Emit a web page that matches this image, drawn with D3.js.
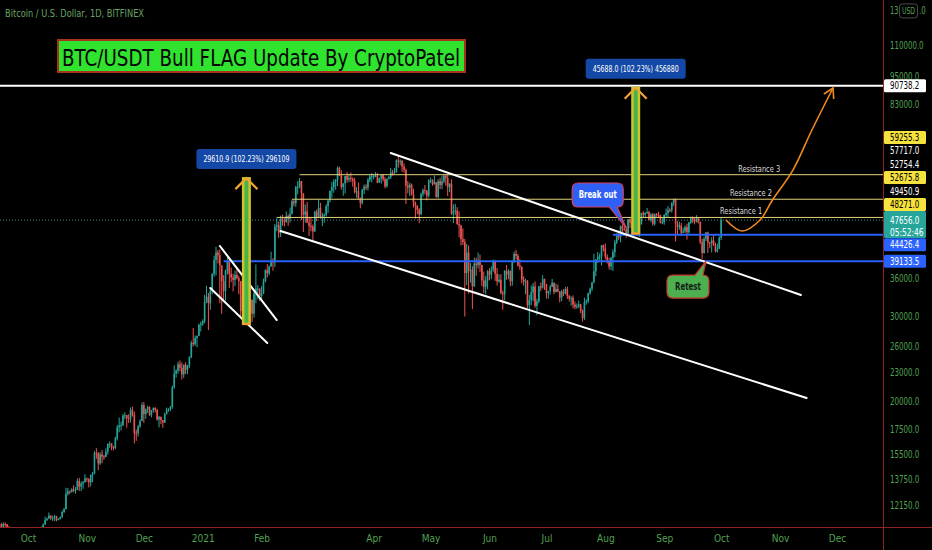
<!DOCTYPE html>
<html>
<head>
<meta charset="utf-8">
<script src="https://cdn.jsdelivr.net/npm/d3@7/dist/d3.min.js"></script>
<style>
html,body{margin:0;padding:0;background:#000;overflow:hidden}
svg{display:block}
</style>
</head>
<body>
<svg id="chart" width="932" height="550"></svg>
<script>
// ---------------- DATA ----------------
const candleStart = "2020-09-16";
const firstOpen = 10.79; // thousands USD
// daily closes (thousands USD), one line per month
const closes = [
 11.08,10.94,11.09,11.08,10.92,10.42,10.53,10.24,10.74,10.69,10.73,10.77,10.84,10.78,10.78,
 10.62,10.57,10.55,10.67,10.79,10.60,10.67,10.92,11.06,11.30,11.38,11.55,11.43,11.43,11.50,11.32,11.36,11.48,11.75,11.92,12.82,12.97,12.93,13.11,13.03,13.07,13.64,13.27,13.46,13.56,13.80,
 13.76,13.55,14.03,14.13,15.58,15.57,14.83,15.48,15.33,15.30,15.70,16.28,16.32,16.07,15.96,16.73,17.65,17.78,17.82,18.65,18.70,18.42,18.37,19.16,18.72,17.15,17.14,17.72,18.18,19.63,
 18.80,19.20,19.45,18.70,19.15,19.36,19.17,18.32,18.55,18.26,18.04,18.80,19.17,19.27,19.44,21.38,22.84,23.14,23.87,23.48,22.75,23.82,23.24,23.73,24.71,26.44,26.28,27.08,27.36,28.84,29.00,
 29.37,32.19,33.00,31.99,33.99,36.82,39.37,40.80,40.25,38.35,35.57,33.92,37.32,39.19,36.83,36.18,35.79,36.63,36.07,35.55,30.83,33.00,32.10,32.29,32.27,32.53,30.43,33.47,34.32,34.32,33.11,
 33.53,35.51,37.47,36.93,38.14,39.27,38.90,46.20,46.48,44.84,47.99,47.40,47.19,48.58,47.94,49.15,52.15,51.68,55.89,55.92,57.49,54.21,48.88,49.70,47.07,46.34,46.19,45.14,
 49.63,48.38,50.54,48.37,48.76,48.88,50.97,52.38,54.88,55.86,57.33,57.83,61.24,59.00,55.86,56.82,58.87,57.85,58.35,58.06,57.52,54.52,54.74,52.77,51.71,55.14,55.97,55.66,57.81,58.78,58.92,
 58.92,59.03,57.02,58.24,59.13,57.99,56.03,58.12,58.56,59.84,59.77,59.99,63.50,63.11,63.31,61.57,60.68,56.22,55.72,56.47,53.90,51.76,51.09,50.05,49.00,54.02,55.03,54.82,53.55,57.75,
 57.83,56.63,57.21,53.24,57.47,56.43,57.38,58.93,58.28,55.86,56.75,49.15,49.72,49.88,46.76,46.43,43.54,42.91,36.96,40.78,37.30,37.53,34.70,38.70,38.40,39.29,38.44,35.69,34.62,35.68,37.33,
 36.69,37.57,39.19,36.83,35.52,35.80,33.55,33.40,37.35,36.68,37.33,35.55,39.10,40.52,40.14,38.35,38.09,35.82,35.48,35.60,31.68,32.50,33.69,34.66,31.59,32.28,34.70,34.49,35.91,35.04,
 33.57,33.90,34.61,35.30,33.75,34.24,33.86,32.88,33.81,33.51,34.26,33.09,32.73,32.82,31.78,31.42,31.53,31.80,30.84,29.79,32.14,32.31,33.58,34.29,35.38,37.27,39.46,40.00,40.01,42.24,41.63,
 39.97,39.20,38.15,39.75,40.87,42.82,44.63,43.82,46.29,45.60,45.59,44.43,47.83,47.10,47.05,45.99,44.70,44.80,46.72,49.34,48.90,49.32,49.53,47.71,48.99,46.85,49.07,48.90,48.83,47.05,47.17,
 48.85,49.28,50.03,49.94,51.77,52.66,46.86,46.09,46.40,44.85,45.16,46.06,44.96,47.09,48.18,47.78,47.31,48.29,47.26,42.84,40.69,43.57,44.90,42.81,42.72,43.21,42.24,41.03,41.52,43.79,
 47.656
];
const highs = [
 11.10,11.15,11.18,11.18,11.08,10.99,10.56,10.57,10.78,10.76,10.82,10.80,10.88,10.86,10.82,
 10.91,10.67,10.60,10.70,10.80,10.80,10.68,10.96,11.12,11.49,11.44,11.72,11.56,11.54,11.59,11.54,11.40,11.49,11.83,11.99,13.20,13.18,13.03,13.16,13.35,13.24,13.80,13.84,13.60,13.63,14.09,
 13.86,13.82,14.07,14.24,15.74,15.96,15.67,15.66,15.82,15.46,15.94,16.33,16.49,16.33,16.14,16.86,17.84,18.48,18.12,18.80,18.95,18.71,18.78,19.40,19.48,19.02,17.43,17.86,18.34,19.86,
 19.92,19.31,19.57,19.50,19.18,19.41,19.43,19.29,18.63,18.56,18.27,18.92,19.39,19.33,19.55,21.54,23.75,23.29,24.17,24.30,24.10,23.84,24.09,23.80,24.79,26.72,28.40,27.39,27.38,28.99,29.30,
 29.60,33.30,34.78,33.60,34.44,36.94,40.18,41.95,41.35,41.39,38.35,36.60,37.60,39.97,39.75,37.95,36.85,37.40,37.85,36.42,35.60,33.83,33.65,32.97,34.80,32.94,32.56,33.78,38.53,34.90,34.28,
 34.72,35.98,37.66,38.60,38.31,40.96,39.70,46.80,48.11,47.32,48.68,48.93,48.10,49.66,49.00,50.62,52.58,52.53,56.16,57.43,58.33,57.50,54.15,51.36,52.00,48.40,48.31,46.65,
 49.78,50.16,52.63,51.74,49.37,49.19,51.39,52.38,54.90,57.20,57.99,58.02,61.70,61.56,60.56,56.89,58.92,60.00,59.46,59.87,58.53,58.37,55.86,57.10,53.12,55.40,56.54,56.60,58.36,59.32,59.75,
 59.46,60.00,59.71,58.45,59.27,59.46,58.65,58.15,58.88,61.23,60.67,61.20,63.80,64.90,63.80,63.59,62.55,61.00,57.50,57.00,56.80,55.40,52.10,51.20,50.50,54.40,55.45,56.40,55.10,57.95,
 58.45,57.94,59.00,57.20,58.00,58.40,59.00,59.50,59.30,59.50,56.90,57.95,51.40,51.50,50.70,49.75,46.60,45.80,43.55,42.50,42.20,38.80,38.20,39.80,39.80,40.80,40.40,38.20,37.25,36.40,37.50,
 37.88,38.20,39.45,39.27,37.90,36.77,36.77,34.00,37.50,38.40,37.65,37.45,39.30,41.00,41.30,40.50,39.50,38.20,36.40,36.00,35.75,33.30,34.85,35.25,35.50,32.70,34.75,35.30,36.60,36.00,
 35.10,33.95,34.95,35.95,35.30,35.10,35.00,33.90,34.10,34.25,34.60,34.65,33.30,33.10,33.20,32.25,31.95,32.40,31.90,31.05,32.85,32.60,33.65,34.50,35.40,40.55,39.50,40.90,40.60,42.30,42.40,
 42.60,40.45,39.80,39.95,41.40,43.35,44.70,45.30,46.45,46.70,46.75,46.20,47.90,48.15,47.40,48.00,47.15,46.00,47.00,49.35,49.80,49.50,50.50,49.85,49.25,49.35,49.20,49.30,49.60,48.90,48.20,
 49.00,50.40,51.00,50.50,51.90,52.80,52.90,47.40,47.30,47.05,45.95,46.45,46.85,47.25,48.45,48.50,48.20,48.80,48.35,47.30,43.60,44.00,45.00,45.10,42.95,43.90,44.30,42.75,42.55,44.10,
 48.30
];
const lows = [
 10.67,10.80,10.82,10.95,10.83,10.33,10.38,10.20,10.22,10.59,10.68,10.63,10.65,10.72,10.66,
 10.44,10.37,10.51,10.50,10.63,10.55,10.59,10.66,10.83,11.11,11.26,11.35,11.30,11.26,11.25,11.24,11.29,11.34,11.42,11.69,11.89,12.71,12.80,12.90,12.92,12.82,13.05,13.00,12.99,13.13,13.53,
 13.57,13.22,13.28,13.55,14.09,15.17,14.36,14.73,14.85,15.09,15.28,15.48,15.96,15.80,15.79,15.88,16.56,17.22,17.37,17.75,18.34,17.61,18.01,18.05,18.58,16.33,16.53,16.88,17.60,18.17,
 18.02,18.38,18.88,18.62,18.51,18.92,18.95,18.20,17.63,17.91,17.60,18.02,18.76,19.00,19.07,19.28,21.24,22.38,22.81,23.08,22.17,22.36,22.76,22.76,23.45,24.57,25.99,26.08,25.89,27.30,27.93,
 28.68,29.03,32.00,28.13,31.00,33.39,36.33,36.52,38.72,32.00,30.40,32.51,32.41,36.70,34.40,35.38,33.85,34.72,35.87,33.40,30.07,28.85,31.39,31.02,31.92,30.87,29.24,29.85,31.99,32.60,32.32,
 32.30,33.42,35.36,36.19,36.57,38.22,37.40,38.06,45.20,43.77,43.95,46.40,46.23,47.08,46.37,47.08,48.97,50.90,50.79,53.96,55.51,47.69,45.03,47.10,47.00,44.17,45.16,43.14,
 45.05,47.42,48.25,47.97,46.30,47.06,48.49,49.33,51.89,53.06,54.35,55.14,56.10,58.90,55.16,53.57,54.18,57.00,57.18,57.22,55.96,54.13,53.10,52.86,50.43,51.34,54.00,55.03,54.91,57.20,57.11,
 57.96,58.50,56.90,56.98,56.77,57.40,55.50,55.70,57.90,58.03,59.00,59.37,59.90,61.30,62.00,60.10,59.80,51.50,54.20,53.50,53.65,50.65,48.00,49.00,46.97,48.80,53.30,53.90,52.40,53.10,
 56.90,56.20,56.50,53.05,52.90,55.30,55.30,56.90,56.20,53.50,54.50,48.90,46.98,48.80,46.60,43.90,42.20,42.30,30.00,34.90,33.50,35.30,31.10,34.60,36.50,37.80,37.20,34.70,33.60,33.40,34.20,
 35.70,35.90,37.20,35.60,34.80,35.25,33.40,31.00,32.45,35.80,35.90,34.70,34.80,38.80,39.50,38.15,37.50,35.20,34.80,33.40,31.25,28.80,31.70,32.30,31.30,30.20,32.00,33.90,34.30,34.10,
 32.70,32.70,33.35,34.55,33.40,33.70,33.70,32.10,32.30,33.10,33.35,32.65,32.25,31.60,31.20,31.10,31.15,31.25,30.50,29.30,29.50,31.75,32.00,33.30,33.90,35.20,36.40,38.80,39.30,38.35,41.00,
 39.50,38.70,37.60,37.50,37.35,39.90,42.50,43.30,42.85,45.00,45.35,43.80,44.20,45.90,45.50,45.50,44.40,44.20,43.95,46.65,48.30,48.10,49.05,47.60,47.20,46.40,46.40,48.40,48.30,46.90,46.75,
 46.60,48.40,48.40,49.50,49.40,51.00,43.00,44.40,45.50,44.20,44.80,44.80,43.40,44.70,46.80,47.00,46.70,47.10,46.90,42.50,39.60,40.60,43.10,40.70,41.70,40.80,42.10,40.80,40.80,41.50,
 43.30
];

// time axis
const monthTickDates = ["2020-10-01","2020-11-01","2020-12-01","2021-01-01","2021-02-01","2021-04-01","2021-05-01","2021-06-01","2021-07-01","2021-08-01","2021-09-01","2021-10-01","2021-11-01","2021-12-01"];
const monthTickLabels = ["Oct","Nov","Dec","2021","Feb","Apr","May","Jun","Jul","Aug","Sep","Oct","Nov","Dec"];
// price axis (the top tick is partly covered by the currency badge: "13" … ".0")
const priceTicks = [110000,95000,83000,36000,30000,26000,23000,20000,17500,15500,13750,12150];
const topTickPrice = 130000;
const topTickLeft = "13", topTickRight = ".0", currencyText = "USD";

// horizontal levels
const levelPrices = [90738.2, 59255.3, 52675.8, 48271.0, 44426.4, 39133.5];
const levelStarts = ["2020-09-10","2021-02-21","2021-02-17","2021-02-09","2021-08-05","2021-01-12"];
const levelKinds  = ["white","yellow","yellow","yellow","blue","blue"];

// right-edge price tags
const tagPrices = [90738.2, 59255.3, 57717.0, 52754.4, 52675.8, 49450.9, 48271.0, 47656.0, 44426.4, 39133.5];
const tagKinds  = ["white","yellow","plain","plain","yellow","plain","yellow","current","blue","blue"];
const countdownText = "05:52:46";
const currentPrice = 47656.0;

// trend / channel lines
const trendStartDates  = ["2021-04-10","2021-02-11","2021-01-10","2021-01-05"];
const trendStartPrices = [65760, 45230, 42100, 34410];
const trendEndDates    = ["2021-11-12","2021-11-15","2021-02-09","2021-02-04"];
const trendEndPrices   = [33270, 20300, 29510, 26430];

// price range measurements
const rangeDates  = ["2021-01-24","2021-08-17"];
const rangeLows   = [28965, 44691];
const rangeHighs  = [58576, 90379];
const rangeLabels = ["29610.9 (102.23%) 296109","45688.0 (102.23%) 456880"];

// projection path
const projDates  = ["2021-10-03T12:00Z","2021-10-12T00:00Z","2021-10-21T12:00Z","2021-10-28T00:00Z","2021-11-07T19:00Z","2021-11-17T19:00Z","2021-11-28T22:00Z"];
const projPrices = [47680, 45230, 47680, 52480, 60600, 73430, 89820];

// resistance text labels
const resLabels = ["Resistance 3","Resistance 2","Resistance 1"];
const resDates  = ["2021-10-21T00:00Z","2021-10-16T16:00Z","2021-10-11T12:00Z"];
const resPrices = [59255.3, 52675.8, 48271.0];

// callouts
const calloutTexts  = ["Break out","Retest"];
const calloutDates  = ["2021-08-12","2021-09-23"];
const calloutPrices = [45890, 39160];

const symbolText = "Bitcoin / U.S. Dollar, 1D, BITFINEX";
const titleText = "BTC/USDT Bull FLAG Update By CryptoPatel";

// ---------------- DRAW ----------------
const W = 932, H = 550, plotRight = 883, plotBottom = 527;
const narrow = "'Liberation Sans Narrow','Arial Narrow','DejaVu Sans Condensed',sans-serif";
const axisGreen = "#53a153";
const charW = 4.2; // condensed glyph advance for axis texts
const svg = d3.select("#chart");
svg.append("rect").attr("width", W).attr("height", H).attr("fill", "#000");

const parseD = s => s.length > 10 ? d3.isoParse(s) : d3.utcParse("%Y-%m-%d")(s);
const x = d3.scaleUtc().domain([parseD("2020-10-01"), parseD("2021-12-01")]).range([28, 837]);
const y = d3.scaleLog().domain([10934, 136990]).range([plotBottom, 0]);

function fitNarrow(sel, txt, per) {
  sel.attr("textLength", txt.length * (per || charW)).attr("lengthAdjust", "spacingAndGlyphs");
}

const defs = svg.append("defs");
defs.append("clipPath").attr("id", "plotclip").append("rect")
  .attr("x", 0).attr("y", 0).attr("width", plotRight).attr("height", plotBottom);

const plot = svg.append("g").attr("clip-path", "url(#plotclip)");

// current price dotted line
plot.append("line").attr("x1", 0).attr("x2", plotRight)
  .attr("y1", y(currentPrice)).attr("y2", y(currentPrice))
  .attr("stroke", "#3d8f86").attr("stroke-width", 1).attr("stroke-dasharray", "1,2");

// candles
const t0 = parseD(candleStart);
const candles = closes.map((c, i) => ({
  date: d3.utcDay.offset(t0, i),
  open: (i === 0 ? firstOpen : closes[i - 1]) * 1000,
  close: c * 1000, high: highs[i] * 1000, low: lows[i] * 1000
}));
const cg = plot.append("g");
candles.forEach(d => {
  const cx = x(d.date);
  const up = d.close >= d.open;
  const col = up ? "#26a69a" : "#ef5350";
  const hi = Math.max(d.high, d.open, d.close), lo = Math.min(d.low, d.open, d.close);
  cg.append("rect").attr("x", cx - 0.5).attr("width", 1)
    .attr("y", y(hi)).attr("height", Math.max(0.5, y(lo) - y(hi))).attr("fill", col);
  const yt = y(Math.max(d.open, d.close)), yb = y(Math.min(d.open, d.close));
  cg.append("rect").attr("x", cx - 0.8).attr("width", 1.6)
    .attr("y", yt).attr("height", Math.max(1, yb - yt)).attr("fill", col);
});

// horizontal level lines
const levelStyle = {
  white: {c: "#ffffff", w: 2},
  yellow: {c: "#e2d47a", w: 1},
  blue: {c: "#2962ff", w: 2}
};
levelPrices.forEach((p, i) => {
  const st = levelStyle[levelKinds[i]];
  plot.append("line").attr("x1", Math.max(0, x(parseD(levelStarts[i])))).attr("x2", plotRight)
    .attr("y1", y(p)).attr("y2", y(p)).attr("stroke", st.c).attr("stroke-width", st.w);
});

// trend lines
trendStartDates.forEach((d, i) => {
  plot.append("line")
    .attr("x1", x(parseD(d))).attr("y1", y(trendStartPrices[i]))
    .attr("x2", x(parseD(trendEndDates[i]))).attr("y2", y(trendEndPrices[i]))
    .attr("stroke", "#ffffff").attr("stroke-width", 2).attr("stroke-linecap", "round");
});

// price range tools
rangeDates.forEach((d, i) => {
  const cx = x(parseD(d));
  const yt = y(rangeHighs[i]), yb = y(rangeLows[i]);
  const g = plot.append("g");
  g.append("rect").attr("x", cx - 4.5).attr("width", 9).attr("y", yt).attr("height", yb - yt)
    .attr("fill", "#cfc22a");
  g.append("line").attr("x1", cx).attr("x2", cx).attr("y1", yt + 2).attr("y2", yb)
    .attr("stroke", "#45b549").attr("stroke-width", 4);
  g.append("line").attr("x1", cx - 4.5).attr("x2", cx + 4.5).attr("y1", yb).attr("y2", yb)
    .attr("stroke", "#f0a22a").attr("stroke-width", 2.5);
  g.append("path").attr("d", `M${cx - 11},${yt + 12} L${cx},${yt + 1} L${cx + 11},${yt + 12}`)
    .attr("fill", "none").attr("stroke", "#f2a530").attr("stroke-width", 2.2);
  g.append("rect").attr("x", cx - 50).attr("y", yt - 28).attr("width", 100).attr("height", 20)
    .attr("rx", 3).attr("fill", "#1448a6");
  const t = g.append("text").attr("x", cx).attr("y", yt - 18).attr("dy", "0.35em")
    .attr("text-anchor", "middle").attr("fill", "#ffffff")
    .attr("font-family", narrow).attr("font-size", 9).text(rangeLabels[i]);
  t.attr("textLength", 86).attr("lengthAdjust", "spacingAndGlyphs");
});

// projection curve
const projPts = projDates.map((d, i) => [x(parseD(d)), y(projPrices[i])]);
plot.append("path").attr("d", d3.line().curve(d3.curveCatmullRom.alpha(0.5))(projPts))
  .attr("fill", "none").attr("stroke", "#f08a1c").attr("stroke-width", 1.6);
{
  const a = projPts[projPts.length - 2], b = projPts[projPts.length - 1];
  const ang = Math.atan2(b[1] - a[1], b[0] - a[0]);
  const L = 11, spread = Math.PI / 6;
  const p1 = [b[0] - L * Math.cos(ang - spread), b[1] - L * Math.sin(ang - spread)];
  const p2 = [b[0] - L * Math.cos(ang + spread), b[1] - L * Math.sin(ang + spread)];
  plot.append("path").attr("d", `M${p1[0]},${p1[1]} L${b[0]},${b[1]} L${p2[0]},${p2[1]}`)
    .attr("fill", "none").attr("stroke", "#f08a1c").attr("stroke-width", 1.6);
}

// resistance labels
resLabels.forEach((t, i) => {
  const el = plot.append("text").attr("x", x(parseD(resDates[i]))).attr("y", y(resPrices[i]) - 3)
    .attr("text-anchor", "middle").attr("fill", "#dcdcdc")
    .attr("font-family", narrow).attr("font-size", 8.5).text(t);
  fitNarrow(el, t, 3.5);
});

// callouts
function calloutPath(x0, y0, x1, y1, r, side, t1, t2, tx, ty) {
  let p = `M${x0 + r},${y0} `;
  if (side === "top") p += `H${t1} L${tx},${ty} L${t2},${y0} `;
  p += `H${x1 - r} Q${x1},${y0} ${x1},${y0 + r} V${y1 - r} Q${x1},${y1} ${x1 - r},${y1} `;
  if (side === "bottom") p += `H${t2} L${tx},${ty} L${t1},${y1} `;
  p += `H${x0 + r} Q${x0},${y1} ${x0},${y1 - r} V${y0 + r} Q${x0},${y0} ${x0 + r},${y0} Z`;
  return p;
}
{
  // Break out
  const ax = x(parseD(calloutDates[0])), ay = y(calloutPrices[0]);
  const x0 = ax - 54, x1 = ax - 3, y0 = ay - 45, y1 = ay - 21;
  svg.append("path").attr("d", calloutPath(x0, y0, x1, y1, 6, "bottom", x1 - 14, x1 - 6, ax, ay))
    .attr("fill", "#2f5ff5").attr("stroke", "#d6415e").attr("stroke-width", 1.2);
  const t1 = svg.append("text").attr("x", (x0 + x1) / 2).attr("y", (y0 + y1) / 2).attr("dy", "0.35em")
    .attr("text-anchor", "middle").attr("fill", "#fff").attr("font-weight", "bold")
    .attr("font-family", narrow).attr("font-size", 10).text(calloutTexts[0]);
  t1.attr("textLength", 38).attr("lengthAdjust", "spacingAndGlyphs");
  // Retest
  const bx = x(parseD(calloutDates[1])), by = y(calloutPrices[1]);
  const u0 = bx - 39, u1 = bx + 3, v0 = by + 14, v1 = by + 37;
  svg.append("path").attr("d", calloutPath(u0, v0, u1, v1, 6, "top", u1 - 14, u1 - 6, bx, by))
    .attr("fill", "#4caf50").attr("stroke", "#c8362e").attr("stroke-width", 1.2);
  const t2 = svg.append("text").attr("x", (u0 + u1) / 2).attr("y", (v0 + v1) / 2).attr("dy", "0.35em")
    .attr("text-anchor", "middle").attr("fill", "#142014").attr("font-weight", "bold")
    .attr("font-family", narrow).attr("font-size", 10).text(calloutTexts[1]);
  t2.attr("textLength", 26).attr("lengthAdjust", "spacingAndGlyphs");
}

// borders
svg.append("line").attr("x1", plotRight + 0.5).attr("x2", plotRight + 0.5).attr("y1", 0).attr("y2", H)
  .attr("stroke", "#8e2525").attr("stroke-width", 1);
svg.append("line").attr("x1", 0).attr("x2", W).attr("y1", plotBottom + 0.5).attr("y2", plotBottom + 0.5)
  .attr("stroke", "#8e2525").attr("stroke-width", 1);

// x axis
const xAxis = d3.axisBottom(x).tickValues(monthTickDates.map(parseD))
  .tickFormat((d, i) => monthTickLabels[i]).tickSize(0).tickPadding(8);
const gx = svg.append("g").attr("transform", `translate(0,${plotBottom})`).call(xAxis);
gx.select(".domain").remove();
gx.selectAll("text").attr("fill", axisGreen).attr("font-family", narrow).attr("font-size", 10);

// y axis
const yAxis = d3.axisRight(y).tickValues(priceTicks).tickFormat(d => d.toFixed(1)).tickSize(0).tickPadding(7);
const gy = svg.append("g").attr("transform", `translate(${plotRight},0)`).call(yAxis);
gy.select(".domain").remove();
gy.selectAll("text").attr("fill", axisGreen).attr("font-family", narrow).attr("font-size", 10)
  .each(function() { const s = d3.select(this); fitNarrow(s, s.text()); });

// top tick partially hidden by currency badge
{
  const ty = y(topTickPrice);
  const a = svg.append("text").attr("x", 890).attr("y", ty).attr("dy", "0.32em").attr("fill", axisGreen)
    .attr("font-family", narrow).attr("font-size", 10).text(topTickLeft);
  fitNarrow(a, topTickLeft);
  svg.append("rect").attr("x", 899.5).attr("y", ty - 7).attr("width", 18).attr("height", 14).attr("rx", 3)
    .attr("fill", "#000").attr("stroke", "#4a4a4a");
  const u = svg.append("text").attr("x", 908.5).attr("y", ty).attr("dy", "0.32em").attr("text-anchor", "middle")
    .attr("fill", axisGreen).attr("font-family", narrow).attr("font-size", 9.5).text(currencyText);
  fitNarrow(u, currencyText, 4.4);
  const b = svg.append("text").attr("x", 919).attr("y", ty).attr("dy", "0.32em").attr("fill", axisGreen)
    .attr("font-family", narrow).attr("font-size", 10).text(topTickRight);
  fitNarrow(b, topTickRight, 3.4);
}

// price tags with collision layout
const tagY = tagPrices.map(p => y(p));
const ci = tagKinds.indexOf("current");
const half = 6.7;
const centers = tagY.slice();
let prevTop = tagY[ci] - 9;
for (let i = ci - 1; i >= 0; i--) {
  centers[i] = Math.min(tagY[i], prevTop - half);
  prevTop = centers[i] - half;
}
let prevBot = tagY[ci] + 18;
for (let i = ci + 1; i < tagPrices.length; i++) {
  centers[i] = Math.max(tagY[i], prevBot + half);
  prevBot = centers[i] + half;
}
const tagStyle = {
  white: {bg: "#ffffff", fg: "#000000"},
  yellow: {bg: "#f6e23c", fg: "#000000"},
  plain: {bg: null, fg: "#ffffff"},
  blue: {bg: "#2962ff", fg: "#ffffff"},
  current: {bg: "#26a69a", fg: "#ffffff"}
};
function tagText(tx, ty, txt, col) {
  const t = svg.append("text").attr("x", tx).attr("y", ty).attr("dy", "0.35em").attr("fill", col)
    .attr("font-family", narrow).attr("font-size", 10).text(txt);
  fitNarrow(t, txt);
}
tagPrices.forEach((p, i) => {
  const st = tagStyle[tagKinds[i]];
  const cy = centers[i];
  if (tagKinds[i] === "current") {
    svg.append("rect").attr("x", 884).attr("y", cy - 9).attr("width", 42).attr("height", 27)
      .attr("rx", 1.5).attr("fill", st.bg);
    tagText(890, cy, p.toFixed(1), st.fg);
    tagText(890, cy + 12.5, countdownText, st.fg);
  } else {
    if (st.bg) svg.append("rect").attr("x", 884).attr("y", cy - 6.5).attr("width", 42).attr("height", 13)
      .attr("rx", 1.5).attr("fill", st.bg);
    tagText(890, cy, p.toFixed(1), st.fg);
  }
});

// symbol caption
{
  const t = svg.append("text").attr("x", 5).attr("y", 17).attr("fill", "#67a467")
    .attr("font-family", narrow).attr("font-size", 10).text(symbolText);
  t.attr("textLength", 139).attr("lengthAdjust", "spacingAndGlyphs");
}

// title box
svg.append("rect").attr("x", 58).attr("y", 40).attr("width", 407).attr("height", 32)
  .attr("fill", "#2fe32f").attr("stroke", "#a8321c").attr("stroke-width", 2);
svg.append("text").attr("x", 62).attr("y", 66).attr("fill", "#050505")
  .attr("font-family", narrow).attr("font-size", 23)
  .attr("textLength", 398).attr("lengthAdjust", "spacingAndGlyphs").text(titleText);
</script>
</body>
</html>
